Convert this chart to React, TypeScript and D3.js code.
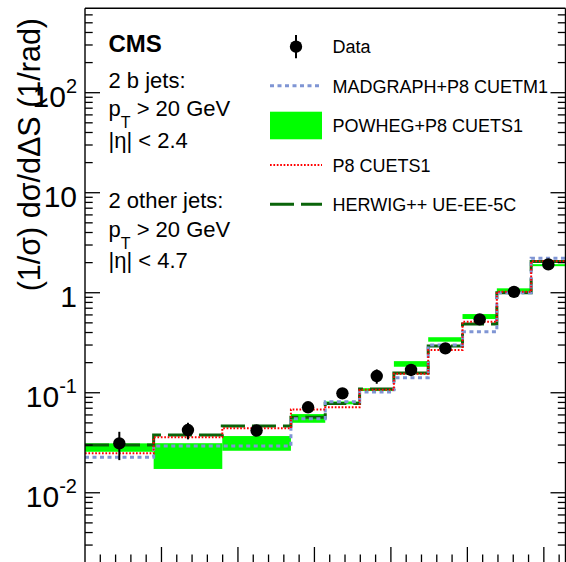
import React from 'react';
import * as d3 from 'd3';

// bin edges in radians (ΔS)
const binEdges = [0, 0.4488, 0.8976, 1.3464, 1.5708, 1.7952, 2.0196, 2.244, 2.4683, 2.6927, 2.9171, 3.1416];
const dataValues = [0.0312, 0.0424, 0.0419, 0.0715, 0.0986, 0.147, 0.169, 0.278, 0.542, 1.02, 1.92];
const dataUpper = [0.0407, 0.0501, 0.0450, 0.0750, 0.104, 0.171, 0.178, 0.290, 0.560, 1.05, 1.97];
const dataLower = [0.0212, 0.0342, 0.0390, 0.0680, 0.094, 0.123, 0.160, 0.266, 0.525, 0.99, 1.87];
const madgraphValues = [0.0226, 0.0293, 0.0293, 0.055, 0.0813, 0.102, 0.141, 0.300, 0.407, 1.0, 2.21];
const p8Values = [0.0248, 0.0358, 0.0441, 0.0682, 0.0715, 0.107, 0.155, 0.267, 0.513, 1.02, 2.07];
const herwigValues = [0.030, 0.0378, 0.0465, 0.0568, 0.0783, 0.109, 0.158, 0.293, 0.486, 1.0, 2.05];
const powhegLow = [0.0257, 0.0173, 0.0263, 0.0501, 0.0766, 0.104, 0.182, 0.324, 0.546, 1.02, 1.85];
const powhegHigh = [0.0312, 0.0313, 0.0369, 0.0612, 0.0818, 0.111, 0.207, 0.359, 0.612, 1.107, 1.93];

const yTickValues = [0.01, 0.1, 1, 10, 100];
const yTickLabels: [string, string][] = [["10", "-2"], ["10", "-1"], ["1", ""], ["10", ""], ["10", "2"]];
const legendLabels = ["Data", "MADGRAPH+P8 CUETM1", "POWHEG+P8 CUETS1", "P8 CUETS1", "HERWIG++ UE-EE-5C"];
const yAxisTitle = "(1/σ) dσ/dΔS (1/rad)";

const W = 566, H = 562;
const L = 85, R = 565.5, T = 8.3, B = 564;
const yTop = 698, yBottom = 0.00194;
const FONT = "'Liberation Sans', Arial, Helvetica, sans-serif";

const COL_BLUE = '#7f95d4';
const COL_RED = '#ff0000';
const COL_GREEN = '#00ff00';
const COL_DKGREEN = '#0a640a';

export default function App() {
  const x = d3.scaleLinear().domain([0, Math.PI]).range([L, R]);
  const y = d3.scaleLog().domain([yBottom, yTop]).range([B, T]);
  const n = dataValues.length;
  const centers = dataValues.map((_, i) => (binEdges[i] + binEdges[i + 1]) / 2);

  const stepLine = d3.line<[number, number]>()
    .x(d => x(d[0]))
    .y(d => y(d[1]))
    .curve(d3.curveStepAfter);
  const stepPts = (vals: number[]) => {
    const pts: [number, number][] = vals.map((v, i) => [binEdges[i], v]);
    pts.push([binEdges[n], vals[n - 1]]);
    return pts;
  };

  // y ticks
  const minorY: number[] = [];
  for (let k = -3; k <= 2; k++) {
    for (let m = 2; m <= 9; m++) {
      const v = m * Math.pow(10, k);
      if (v > yBottom && v < yTop) minorY.push(v);
    }
  }
  const xTicks = d3.range(1, 32).map(i => i / 10);

  const legX0 = 270, legX1 = 322, legTextX = 332.5;
  const legBase = [53.3, 92.7, 132.2, 171.6, 211];

  return (
    <svg width={W} height={H} style={{ position: 'absolute', left: 0, top: 0, background: '#fff' }} fontFamily={FONT}>
      <rect x={0} y={0} width={W} height={H} fill="#fff" />
      {/* POWHEG band */}
      {powhegLow.map((lo, i) => (
        <rect key={'pw' + i} x={x(binEdges[i])} width={x(binEdges[i + 1]) - x(binEdges[i])}
          y={y(powhegHigh[i])} height={Math.max(2, y(lo) - y(powhegHigh[i]))} fill={COL_GREEN} />
      ))}
      {/* HERWIG */}
      <path d={stepLine(stepPts(herwigValues)) || ''} fill="none" stroke={COL_DKGREEN} strokeWidth={3} strokeDasharray="24,7" />
      {/* MADGRAPH */}
      <path d={stepLine(stepPts(madgraphValues)) || ''} fill="none" stroke={COL_BLUE} strokeWidth={3} strokeDasharray="4,3.5" />
      {/* P8 */}
      <path d={stepLine(stepPts(p8Values)) || ''} fill="none" stroke={COL_RED} strokeWidth={2} strokeDasharray="1.7,1.7" />
      {/* Data */}
      {dataValues.map((v, i) => (
        <g key={'d' + i}>
          <line x1={x(centers[i])} x2={x(centers[i])} y1={y(dataUpper[i])} y2={y(dataLower[i])} stroke="#000" strokeWidth={2} />
          <circle cx={x(centers[i])} cy={y(v)} r={6.2} fill="#000" />
        </g>
      ))}

      {/* Frame */}
      <line x1={L} x2={L} y1={T} y2={B} stroke="#000" strokeWidth={1.4} />
      <line x1={R} x2={R} y1={T} y2={B} stroke="#000" strokeWidth={1.4} />
      <line x1={L} x2={R} y1={T} y2={T} stroke="#000" strokeWidth={1.4} />
      <line x1={L} x2={R} y1={B} y2={B} stroke="#000" strokeWidth={1.4} />

      {/* y ticks */}
      {yTickValues.map(v => (
        <g key={'yt' + v}>
          <line x1={L} x2={L + 15} y1={y(v)} y2={y(v)} stroke="#000" strokeWidth={1.3} />
          <line x1={R} x2={R - 15} y1={y(v)} y2={y(v)} stroke="#000" strokeWidth={1.3} />
        </g>
      ))}
      {minorY.map(v => (
        <g key={'ym' + v}>
          <line x1={L} x2={L + 7.7} y1={y(v)} y2={y(v)} stroke="#000" strokeWidth={1.3} />
          <line x1={R} x2={R - 7.7} y1={y(v)} y2={y(v)} stroke="#000" strokeWidth={1.3} />
        </g>
      ))}
      {/* x ticks */}
      {xTicks.map((t, i) => {
        const major = Math.round(t * 10) % 5 === 0;
        return <line key={'xt' + i} x1={x(t)} x2={x(t)} y1={B} y2={B - (major ? 17 : 9.5)} stroke="#000" strokeWidth={1.3} />;
      })}

      {/* y tick labels */}
      {yTickValues.map((v, i) => (
        <text key={'yl' + v} x={77} y={y(v) + 14.5} textAnchor="end" fontSize={30} fill="#000">
          {yTickLabels[i][0]}
          {yTickLabels[i][1] && <tspan fontSize={20} dy={-14}>{yTickLabels[i][1]}</tspan>}
        </text>
      ))}

      {/* y axis title */}
      <text transform={`translate(40,18) rotate(-90)`} textAnchor="end" fontSize={30.5} fill="#000">{yAxisTitle}</text>

      {/* Left annotations */}
      <text x={108.5} y={51.7} fontSize={24} fontWeight="bold">CMS</text>
      <text x={108.5} y={88.3} fontSize={22}>2 b jets:</text>
      <text x={108.5} y={115.7} fontSize={22}>p<tspan fontSize={16} dy={12}>T</tspan><tspan dy={-12}> &gt; 20 GeV</tspan></text>
      <text x={108.5} y={148} fontSize={22}>|η| &lt; 2.4</text>
      <text x={108.5} y={208} fontSize={22}>2 other jets:</text>
      <text x={108.5} y={236.7} fontSize={22}>p<tspan fontSize={16} dy={12}>T</tspan><tspan dy={-12}> &gt; 20 GeV</tspan></text>
      <text x={108.5} y={268} fontSize={22}>|η| &lt; 4.7</text>

      {/* Legend */}
      <line x1={296} x2={296} y1={35} y2={58.3} stroke="#000" strokeWidth={2} />
      <circle cx={296} cy={46.7} r={6.2} fill="#000" />
      <line x1={legX0} x2={legX1} y1={legBase[1] - 7} y2={legBase[1] - 7} stroke={COL_BLUE} strokeWidth={3} strokeDasharray="4,3.5" />
      <rect x={legX0} y={111.7} width={legX1 - legX0} height={27.6} fill={COL_GREEN} />
      <line x1={legX0} x2={legX1} y1={legBase[3] - 6.5} y2={legBase[3] - 6.5} stroke={COL_RED} strokeWidth={2} strokeDasharray="1.7,1.7" />
      <line x1={legX0} x2={legX1} y1={legBase[4] - 6.7} y2={legBase[4] - 6.7} stroke={COL_DKGREEN} strokeWidth={3} strokeDasharray="24,7" />
      {legendLabels.map((t, i) => (
        <text key={'lg' + i} x={legTextX} y={legBase[i]} fontSize={18} fill="#000">{t}</text>
      ))}
    </svg>
  );
}
